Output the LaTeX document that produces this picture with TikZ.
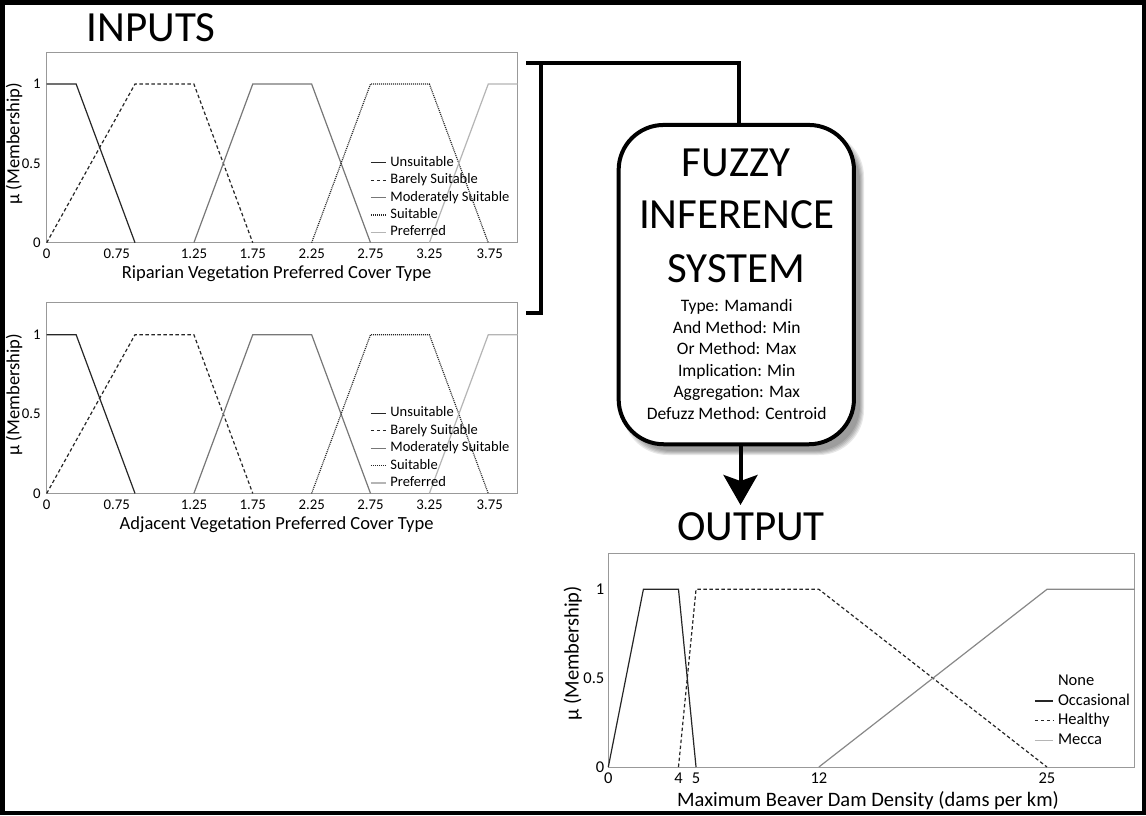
\documentclass[tikz,border=0pt]{standalone}
\usepackage{fontspec}
\setmainfont{Carlito}
\usetikzlibrary{arrows.meta}
\definecolor{modgray}{HTML}{777777}
\definecolor{prefgray}{HTML}{B5B5B5}
\definecolor{framegray}{HTML}{999999}
\definecolor{meccagray}{HTML}{888888}
\tikzset{
  frm/.style={draw=framegray, line width=1pt},
  crv/.style={line width=1.2pt, line join=miter},
  unsuit/.style={crv, draw=black!85},
  barely/.style={crv, draw=black!85, dash pattern=on 3.5pt off 2.5pt},
  moder/.style={crv, draw=modgray},
  suit/.style={crv, draw=black!85, dash pattern=on 1pt off 1pt},
  pref/.style={crv, draw=prefgray},
  meccac/.style={crv, draw=meccagray},
  lbl/.style={inner sep=0pt, outer sep=0pt},
  tickA/.style={lbl, font=\fontsize{14.8}{16}\selectfont},
  legA/.style={lbl, font=\fontsize{14.5}{16}\selectfont, anchor=base west},
  axA/.style={lbl, font=\fontsize{18.5}{20}\selectfont},
  tickB/.style={lbl, font=\fontsize{16.5}{18}\selectfont},
  legB/.style={lbl, font=\fontsize{16.5}{18}\selectfont, anchor=base west},
  axB/.style={lbl, font=\fontsize{20.5}{22}\selectfont},
  bigtitle/.style={lbl, font=\fontsize{43}{48}\selectfont, anchor=base},
  fisline/.style={lbl, font=\fontsize{17.5}{20}\selectfont, anchor=base},
  conn/.style={line width=4pt, draw=black, line join=miter},
  fisbox/.style={draw=black, line width=4pt, fill=white, rounded corners=45pt,
    minimum width=235.3pt, minimum height=319.3pt, inner sep=0pt, outer sep=0pt},
}
\newcommand{\InPlot}[3]{%
\begin{scope}[shift={(46.7pt,{-242.7pt-#1pt})}, x=117.75pt, y=158.7pt]
  \draw[frm] (0,0) rectangle (4,1.2);
  \draw[unsuit] (0,1) -- (0.25,1) -- (0.75,0);
  \draw[barely] (0,0) -- (0.75,1) -- (1.25,1) -- (1.75,0);
  \draw[moder] (1.25,0) -- (1.75,1) -- (2.25,1) -- (2.75,0);
  \draw[suit] (2.25,0) -- (2.75,1) -- (3.25,1) -- (3.75,0);
  \draw[pref] (3.25,0) -- (3.75,1) -- (4,1);
  \foreach \v/\n in {0/a,0.5/b,1/c}
    \node[tickA, anchor=east] (#3y\n) at ([xshift=-6pt]0,\v) {\v};
  \foreach \u/\p/\n in {0/0/a,0.75/0.594/b,1.25/1.25/c,1.75/1.75/d,2.25/2.25/e,2.75/2.75/f,3.25/3.25/g,3.75/3.762/h}
    \node[tickA, anchor=base] (#3x\n) at ([yshift=-15.6pt]\p,0) {\u};
  \node[axA, anchor=base] (#3xl) at ([yshift=-35.6pt]1.952,0) {#2};
  \node[axA, rotate=90] (#3yl) at ([xshift=-32.5pt]0,0.622) {µ (Membership)};
  % legend
  \draw[unsuit] (2.752,0.504) -- (2.882,0.504);
  \node[legA] (#3la) at ([yshift=-3.5pt]2.919,0.504) {Unsuitable};
  \draw[barely] (2.752,0.3944) -- (2.882,0.3944);
  \node[legA] (#3lb) at ([yshift=-3.5pt]2.919,0.3944) {Barely Suitable};
  \draw[moder] (2.752,0.2848) -- (2.882,0.2848);
  \node[legA] (#3lc) at ([yshift=-3.5pt]2.919,0.2848) {Moderately Suitable};
  \draw[suit] (2.752,0.1752) -- (2.882,0.1752);
  \node[legA] (#3ld) at ([yshift=-3.5pt]2.919,0.1752) {Suitable};
  \draw[pref] (2.752,0.0656) -- (2.882,0.0656);
  \node[legA] (#3le) at ([yshift=-3.5pt]2.919,0.0656) {Preferred};
\end{scope}}
\begin{document}
\begin{tikzpicture}[x=1pt,y=-1pt]
  \fill[white] (0,0) rectangle (1146,815);
  \useasboundingbox (0,0) rectangle (1146,815);

  % titles
  \node[bigtitle] (tin) at (151.2,41.7) {INPUTS};
  \node[bigtitle] (tout) at (751,540.7) {OUTPUT};

  % input plots
  \InPlot{0}{Riparian Vegetation Preferred Cover Type}{r}
  \InPlot{250.7}{Adjacent Vegetation Preferred Cover Type}{d}

  % FIS box shadow
  \foreach \s in {0,1,...,4}
    \fill[black, opacity=0.09, rounded corners=45pt]
      ({626.7-\s},{135.7-\s}) rectangle ({860+\s},{451+\s});
  \node[fisbox] (fis) at (736.3,284.6) {};
  \node[bigtitle] (f1) at (736,176) {FUZZY};
  \node[bigtitle] (f2) at (736.7,228.3) {INFERENCE};
  \node[bigtitle] (f3) at (736.5,282.3) {SYSTEM};
  \node[fisline] (g1) at (736.7,311.7) {Type: Mamandi};
  \node[fisline] (g2) at (736.7,333.2) {And Method: Min};
  \node[fisline] (g3) at (736.7,354.7) {Or Method: Max};
  \node[fisline] (g4) at (736.7,376.2) {Implication: Min};
  \node[fisline] (g5) at (736.7,397.7) {Aggregation: Max};
  \node[fisline] (g6) at (736.7,419.2) {Defuzz Method: Centroid};

  % connectors
  \coordinate (inA) at (526,63.3);
  \coordinate (brTop) at (540.7,63.3);
  \coordinate (inB) at (526,313.3);
  \coordinate (topX) at (738.7,63.3);
  \coordinate (outTip) at (740.5,505);
  \draw[conn] (inB) -| (brTop);
  \draw[conn] (inA) -| (fis.north -| topX);
  \draw[conn, -{Stealth[length=30pt,width=34pt,inset=6pt]}] (fis.south -| outTip) -- (outTip);

  % output plot
  \begin{scope}[shift={(608.3pt,-767pt)}, x=17.547pt, y=177.7pt]
    \draw[frm] (0,0) rectangle (30,1.2);
    \draw[unsuit] (0,0) -- (2,1) -- (4,1) -- (5,0);
    \draw[barely] (4,0) -- (5,1) -- (12,1) -- (25,0);
    \draw[meccac] (12,0) -- (25,1) -- (30,1);
    \foreach \v/\n in {0/a,0.5/b,1/c}
      \node[tickB, anchor=east] (oy\n) at ([xshift=-4pt]0,\v) {\v};
    \foreach \u/\n in {0/a,4/b,5/c,12/d,25/e}
      \node[tickB, anchor=base] (ox\n) at ([yshift=-16.3pt]\u,0) {\u};
    \node[axB, anchor=base] (oxl) at ([yshift=-39.7pt]14.8,0) {Maximum Beaver Dam Density (dams per km)};
    \node[axB, rotate=90] (oyl) at ([xshift=-35.5pt]0,0.64) {µ (Membership)};
    \node[legB] (ola) at (25.63,0.4615) {None};
    \draw[unsuit] (24.31,0.3714) -- (25.34,0.3714);
    \node[legB] (olb) at ([yshift=-4pt]25.63,0.3714) {Occasional};
    \draw[barely] (24.31,0.2606) -- (25.34,0.2606);
    \node[legB] (olc) at ([yshift=-4pt]25.63,0.2606) {Healthy};
    \draw[pref] (24.31,0.148) -- (25.34,0.148);
    \node[legB] (old) at ([yshift=-4pt]25.63,0.148) {Mecca};
  \end{scope}

  % outer border
  \draw[line width=4.5pt] (2.25,2.25) rectangle (1143.75,812.75);
\end{tikzpicture}
\end{document}
